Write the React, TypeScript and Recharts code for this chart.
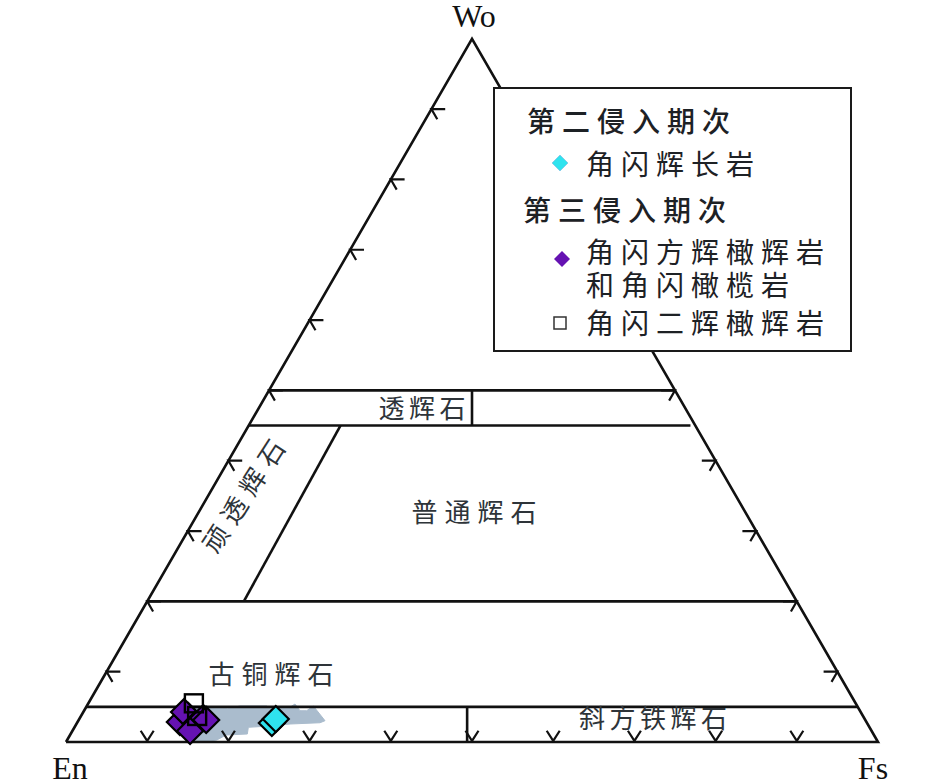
import React from 'react';
import { ScatterChart, Scatter, XAxis, YAxis, Legend } from 'recharts';

// ---------- data (ternary compositions, Wo / Fs in mol %, En = 100 - Wo - Fs) ----------
type Comp = { wo: number; fs: number };

const triangle: Comp[] = [
  { wo: 0, fs: 0 },
  { wo: 0, fs: 100 },
  { wo: 100, fs: 0 },
  { wo: 0, fs: 0 },
];

const fieldBoundaries: Comp[][] = [
  [{ wo: 50, fs: 0 }, { wo: 50, fs: 50 }],
  [{ wo: 45, fs: 0 }, { wo: 45, fs: 54.4 }],
  [{ wo: 50, fs: 25 }, { wo: 45, fs: 27.5 }],
  [{ wo: 45, fs: 11.3 }, { wo: 20, fs: 11.9 }],
  [{ wo: 20, fs: 0 }, { wo: 20, fs: 80 }],
  [{ wo: 5, fs: 0 }, { wo: 5, fs: 95 }],
  [{ wo: 5, fs: 46.9 }, { wo: 0, fs: 49.4 }],
];

const tickValues = [10, 20, 30, 40, 50, 60, 70, 80, 90];

const fieldRange: Comp[] = [
  { wo: 4.84, fs: 15.31 }, { wo: 4.75, fs: 17.52 }, { wo: 5.12, fs: 18.87 },
  { wo: 5.12, fs: 22.16 }, { wo: 4.79, fs: 22.73 }, { wo: 4.79, fs: 24.98 },
  { wo: 5.4, fs: 25.5 }, { wo: 4.45, fs: 26.59 }, { wo: 4.45, fs: 27.42 },
  { wo: 5.12, fs: 27.9 }, { wo: 3.03, fs: 30.38 }, { wo: 2.74, fs: 29.91 },
  { wo: 2.56, fs: 26.31 }, { wo: 2.28, fs: 23.98 }, { wo: 2.09, fs: 21.41 },
  { wo: 1.14, fs: 21.76 }, { wo: 1.0, fs: 19.22 }, { wo: 0.28, fs: 18.42 },
  { wo: 0.04, fs: 16.85 }, { wo: 0.28, fs: 14.72 }, { wo: 1.71, fs: 13.19 },
  { wo: 5.02, fs: 13.13 }, { wo: 4.84, fs: 15.31 },
];

// 第二侵入期次 角闪辉长岩
const hornblendeGabbro: Comp[] = [
  { wo: 2.7, fs: 24.0 },
  { wo: 3.27, fs: 24.2 },
];
// 第三侵入期次 角闪方辉橄辉岩和角闪橄榄岩
const harzburgite: Comp[] = [
  { wo: 2.84, fs: 12.6 },
  { wo: 3.7, fs: 13.2 },
  { wo: 4.27, fs: 12.4 },
  { wo: 2.56, fs: 14.7 },
  { wo: 3.41, fs: 15.2 },
  { wo: 3.13, fs: 15.7 },
  { wo: 1.56, fs: 14.5 },
];
// 角闪二辉橄辉岩
const lherzolite: Comp[] = [
  { wo: 5.5, fs: 13.0 },
  { wo: 3.7, fs: 14.3 },
];

const legendTitles = ['第二侵入期次', '第三侵入期次'];
const legendItems = ['角闪辉长岩', '角闪方辉橄辉岩', '和角闪橄榄岩', '角闪二辉橄辉岩'];

const vertexLabels = [
  { x: 50.25, y: 89.41, text: 'Wo' },
  { x: 0.49, y: -3.2, text: 'En' },
  { x: 99.38, y: -3.2, text: 'Fs' },
];
const fieldLabels = [
  { x: 43.84, y: 41.26, text: '透辉石', spacing: 4.5, rotate: 0 },
  { x: 50.25, y: 28.57, text: '普通辉石', spacing: 7, rotate: 0 },
  { x: 25.25, y: 8.5, text: '古铜辉石', spacing: 7, rotate: 0 },
  { x: 72.29, y: 3.2, text: '斜方铁辉石', spacing: 4.5, rotate: 0 },
  { x: 21.67, y: 30.42, text: '顽透辉石', spacing: 8, rotate: -57 },
];

// ---------- helpers ----------
const S = Math.sqrt(3) / 2;
const toXY = (c: Comp) => ({ x: c.fs + c.wo / 2, y: c.wo * S });
const pts = (arr: Comp[]) => arr.map(toXY);

const ARM = 1.7;
const ARM2 = 1.45;
const ticks: Comp[][] = [];
tickValues.forEach((w) => {
  ticks.push([{ wo: w, fs: ARM }, { wo: w, fs: 0 }, { wo: w - ARM2, fs: ARM2 }]);
  ticks.push([{ wo: w, fs: 100 - w - ARM }, { wo: w, fs: 100 - w }, { wo: w - ARM2, fs: 100 - w }]);
  ticks.push([{ wo: 1.6, fs: w - 1.6 }, { wo: 0.15, fs: w - 0.075 }, { wo: 1.6, fs: w }]);
});

const LINE = '#111';
const TEXT = '#2e3439';
const CYAN = '#2fe3ee';
const PURPLE = '#6512b2';

const none = () => <g />;

const diamond = (fill: string, size: number) => (p: any) => {
  const { cx, cy } = p;
  if (cx == null || cy == null) return <g />;
  const h = size / 2;
  return (
    <path
      d={`M${cx},${cy - h}L${cx + h},${cy}L${cx},${cy + h}L${cx - h},${cy}Z`}
      fill={fill}
      stroke="#000"
      strokeWidth={2.2}
    />
  );
};

const square = (size: number) => (p: any) => {
  const { cx, cy } = p;
  if (cx == null || cy == null) return <g />;
  const h = size / 2;
  return <rect x={cx - h} y={cy - h} width={size} height={size} fill="none" stroke="#000" strokeWidth={2.4} />;
};

const vertexText = (p: any) => {
  const { cx, cy, payload } = p;
  return (
    <text
      x={cx}
      y={cy + 11}
      textAnchor="middle"
      fontFamily="Liberation Serif, DejaVu Serif, serif"
      fontSize={32}
      fill="#111"
    >
      {payload.text}
    </text>
  );
};

const fieldText = (p: any) => {
  const { cx, cy, payload } = p;
  return (
    <text
      x={cx + payload.spacing / 2}
      y={cy}
      textAnchor="middle"
      dominantBaseline="central"
      fontFamily="Noto Sans CJK SC, sans-serif"
      fontSize={26}
      letterSpacing={payload.spacing}
      fill={TEXT}
      transform={payload.rotate ? `rotate(${payload.rotate}, ${cx}, ${cy})` : undefined}
    >
      {payload.text}
    </text>
  );
};

const LegendBox = () => {
  const font: React.CSSProperties = {
    position: 'absolute',
    fontFamily: "'Noto Sans CJK SC', sans-serif",
    fontSize: 28,
    lineHeight: '28px',
    letterSpacing: 7,
    color: '#1d2125',
    whiteSpace: 'nowrap',
  };
  return (
    <div
      style={{
        position: 'relative',
        boxSizing: 'border-box',
        width: 359,
        height: 265,
        border: '2px solid #1a1a1a',
        background: '#fff',
      }}
    >
      <div style={{ ...font, left: 32, top: 17, fontWeight: 500 }}>{legendTitles[0]}</div>
      <svg style={{ position: 'absolute', left: 56, top: 65 }} width={18} height={18}>
        <path d="M9,1L17,9L9,17L1,9Z" fill={CYAN} stroke="#7ad" strokeWidth={0.5} />
      </svg>
      <div style={{ ...font, left: 91, top: 60 }}>{legendItems[0]}</div>
      <div style={{ ...font, left: 28, top: 106, fontWeight: 500 }}>{legendTitles[1]}</div>
      <svg style={{ position: 'absolute', left: 58, top: 161 }} width={18} height={18}>
        <path d="M9,1L17,9L9,17L1,9Z" fill={PURPLE} />
      </svg>
      <div style={{ ...font, left: 91, top: 148 }}>{legendItems[1]}</div>
      <div style={{ ...font, left: 91, top: 181 }}>{legendItems[2]}</div>
      <svg style={{ position: 'absolute', left: 58, top: 227 }} width={14} height={14}>
        <rect x={1} y={1} width={12} height={12} fill="#fff" stroke="#333" strokeWidth={1.5} />
      </svg>
      <div style={{ ...font, left: 91, top: 219 }}>{legendItems[3]}</div>
    </div>
  );
};

export default function App() {
  return (
    <div style={{ position: 'absolute', left: 0, top: 0, width: 945, height: 784 }}>
      <ScatterChart
        width={945}
        height={784}
        margin={{ top: 0, right: 0, bottom: 0, left: 0 }}
        style={{ overflow: 'visible' }}
      >
        <XAxis type="number" dataKey="x" domain={[-8.128, 108.25]} hide />
        <YAxis type="number" dataKey="y" domain={[-5.172, 91.379]} hide />

        <Scatter
          data={pts(fieldRange)}
          line={{ fill: '#aabccd', stroke: '#aabccd', strokeWidth: 1 }}
          shape={none}
          isAnimationActive={false}
        />

        <Scatter
          data={pts(triangle)}
          line={{ stroke: LINE, strokeWidth: 2.6 }}
          shape={none}
          isAnimationActive={false}
        />
        {fieldBoundaries.map((seg, i) => (
          <Scatter
            key={'b' + i}
            data={pts(seg)}
            line={{ stroke: LINE, strokeWidth: 2.6 }}
            shape={none}
            isAnimationActive={false}
          />
        ))}
        {ticks.map((t, i) => (
          <Scatter
            key={'t' + i}
            data={pts(t)}
            line={{ stroke: LINE, strokeWidth: 2.2, strokeLinejoin: 'miter' }}
            shape={none}
            isAnimationActive={false}
          />
        ))}

        <Scatter data={pts(harzburgite)} shape={diamond(PURPLE, 26)} isAnimationActive={false} />
        <Scatter data={pts(lherzolite)} shape={square(18)} isAnimationActive={false} />
        <Scatter data={pts(hornblendeGabbro)} shape={diamond(CYAN, 26)} isAnimationActive={false} />

        <Scatter data={vertexLabels} shape={vertexText} isAnimationActive={false} />
        <Scatter data={fieldLabels} shape={fieldText} isAnimationActive={false} />

        <Legend
          layout="vertical"
          align="center"
          verticalAlign="middle"
          wrapperStyle={{ left: 493, top: 87, width: 359, height: 265 }}
          content={() => <LegendBox />}
        />
      </ScatterChart>
    </div>
  );
}
